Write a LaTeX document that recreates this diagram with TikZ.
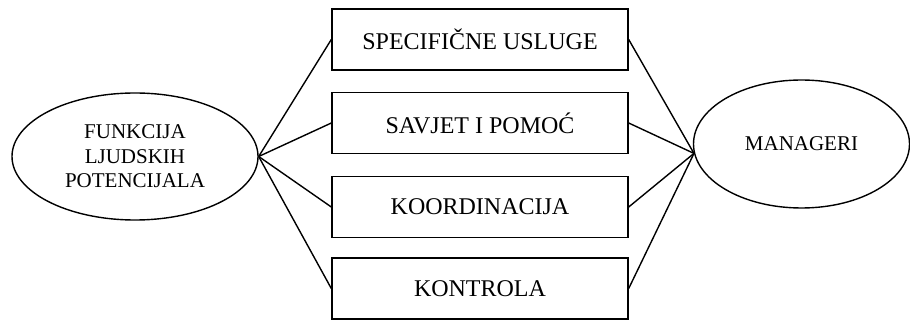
\documentclass[tikz,border=0pt]{standalone}
\usepackage{fontspec}
\setmainfont{Liberation Serif}
\usetikzlibrary{shapes.geometric}

\begin{document}
\begin{tikzpicture}[x=0.5pt,y=-0.5pt,line width=0.7pt,
  krug/.style={draw,ellipse,inner sep=0pt,align=center,font=\fontsize{10.5}{12.25}\selectfont},
  usluga/.style={draw,rectangle,minimum width=148pt,minimum height=30.5pt,inner sep=0pt,font=\fontsize{12}{14}\selectfont}]
\useasboundingbox (0,0) rectangle (910,320);
% lijevo i desno
\node[krug,minimum width=123pt,minimum height=63.5pt] (ljp) at (135,156.5) {FUNKCIJA\\LJUDSKIH\\POTENCIJALA};
\node[krug,minimum width=108pt,minimum height=64pt] (mgr) at (801.5,144) {MANAGERI};
% pravokutnici u sredini
\node[usluga] (spec) at (480,39.5) {SPECIFIČNE USLUGE};
\node[usluga] (savjet) at (480,123) {SAVJET I POMOĆ};
\node[usluga] (koord) at (480,207) {KOORDINACIJA};
\node[usluga] (kontr) at (480,288.5) {KONTROLA};
%%
\foreach \b in {spec,savjet,koord,kontr}{
  \draw (ljp.east) -- (\b.west);
  \draw (\b.east) -- (mgr.185);
}
\end{tikzpicture}
\end{document}
